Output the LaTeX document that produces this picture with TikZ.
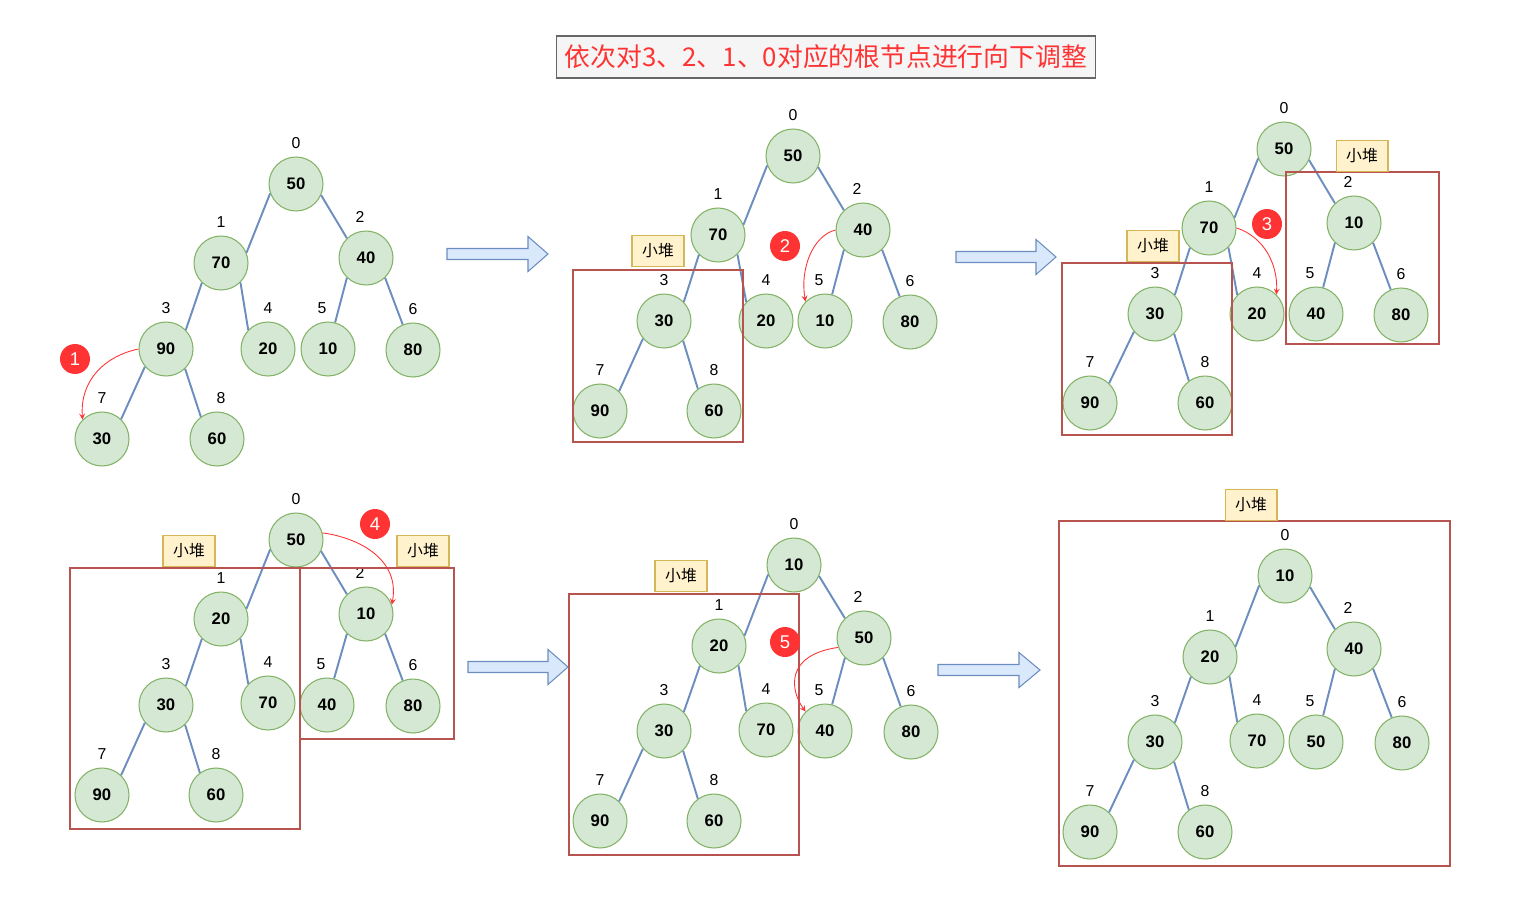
\documentclass[tikz,border=0pt]{standalone}
\usepackage{fontspec}
\setmainfont{Liberation Sans}
\newfontfamily\cjk{Noto Sans CJK SC}
\usetikzlibrary{arrows}
\definecolor{nodefill}{HTML}{D5E8D4}
\definecolor{nodeline}{HTML}{82B366}
\definecolor{edgeblue}{HTML}{6C8EBF}
\definecolor{arrowfill}{HTML}{DAE8FC}
\definecolor{boxred}{HTML}{B85450}
\definecolor{tagfill}{HTML}{FFF2CC}
\definecolor{tagline}{HTML}{D6B656}
\definecolor{badgered}{HTML}{FF3333}
\definecolor{titlefill}{HTML}{F5F5F5}
\definecolor{titleline}{HTML}{666666}
\tikzstyle{heapnode} = [circle, minimum size=1.08cm, inner sep=0pt, draw=nodeline, fill=nodefill, line width=0.6pt, font=\fontsize{9.5}{10}\selectfont\bfseries]
\tikzstyle{idx} = [font=\fontsize{9}{10}\selectfont, label distance=1pt]
\tikzstyle{edge} = [draw=edgeblue, line width=1.1pt]
\tikzstyle{heapbox} = [draw=boxred, line width=0.6pt]
\tikzstyle{tag} = [rectangle, draw=tagline, fill=tagfill, line width=0.6pt, minimum width=1.04cm, minimum height=0.62cm, inner sep=0pt, font=\cjk\fontsize{9}{10}\selectfont]
\tikzstyle{badge} = [circle, fill=badgered, text=white, minimum size=0.6cm, inner sep=0pt, font=\fontsize{10.5}{11}\selectfont]
\tikzstyle{redarrow} = [->, >=stealth, draw=badgered, line width=0.5pt]
\tikzstyle{bigarrow} = [draw=edgeblue, fill=arrowfill, line width=0.6pt]
\tikzstyle{title} = [rectangle, draw=titleline, fill=titlefill, line width=0.6pt, minimum width=10.78cm, minimum height=0.84cm, text=badgered, font=\cjk\fontsize{14.7}{17}\selectfont]

\begin{document}
\begin{tikzpicture}[x=0.02cm, y=-0.02cm]
\useasboundingbox (0,0) rectangle (1523,912);

\node (title) [title] at (826,57) {依次对3、2、1、0对应的根节点进行向下调整};

% tree 1
\node (t1n0) [heapnode, label={[idx]above:0}] at (296,184) {50};
\node (t1n1) [heapnode, label={[idx]above:1}] at (221,263) {70};
\node (t1n2) [heapnode, label={[idx, xshift=-0.12cm]above:2}] at (366,258) {40};
\node (t1n3) [heapnode, label={[idx]above:3}] at (166,349) {90};
\node (t1n4) [heapnode, label={[idx]above:4}] at (268,349) {20};
\node (t1n5) [heapnode, label={[idx, xshift=-0.12cm]above:5}] at (328,349) {10};
\node (t1n6) [heapnode, label={[idx]above:6}] at (413,350) {80};
\node (t1n7) [heapnode, label={[idx]above:7}] at (102,439) {30};
\node (t1n8) [heapnode, label={[idx, xshift=0.08cm]above:8}] at (217,439) {60};
\draw [edge] (t1n0.200) -- (t1n1.22);
\draw [edge] (t1n0.-24) -- (t1n2.134);
\draw [edge] (t1n1.226) -- (t1n3.44);
\draw [edge] (t1n1.-45) -- (t1n4.136);
\draw [edge] (t1n2.226) -- (t1n5.75);
\draw [edge] (t1n2.-46) -- (t1n6.112);
\draw [edge] (t1n3.220) -- (t1n7.46);
\draw [edge] (t1n3.-46) -- (t1n8.126);
\node (step1) [badge] at (75,359) {1};
\draw [redarrow] (t1n3.west) .. controls (105,356) and (80,380) .. (t1n7.north west);

% tree 2
\node (t2n0) [heapnode, label={[idx]above:0}] at (793,156) {50};
\node (t2n1) [heapnode, label={[idx]above:1}] at (718,235) {70};
\node (t2n2) [heapnode, label={[idx, xshift=-0.12cm]above:2}] at (863,230) {40};
\node (t2n3) [heapnode, label={[idx]above:3}] at (664,321) {30};
\node (t2n4) [heapnode, label={[idx]above:4}] at (766,321) {20};
\node (t2n5) [heapnode, label={[idx, xshift=-0.12cm]above:5}] at (825,321) {10};
\node (t2n6) [heapnode, label={[idx]above:6}] at (910,322) {80};
\node (t2n7) [heapnode, label={[idx]above:7}] at (600,411) {90};
\node (t2n8) [heapnode, label={[idx]above:8}] at (714,411) {60};
\draw [edge] (t2n0.200) -- (t2n1.22);
\draw [edge] (t2n0.-24) -- (t2n2.134);
\draw [edge] (t2n1.226) -- (t2n3.44);
\draw [edge] (t2n1.-45) -- (t2n4.136);
\draw [edge] (t2n2.226) -- (t2n5.75);
\draw [edge] (t2n2.-46) -- (t2n6.112);
\draw [edge] (t2n3.220) -- (t2n7.46);
\draw [edge] (t2n3.-46) -- (t2n8.126);
\draw [heapbox] (573,270) rectangle (743,442);
\node (t2tag) [tag] at (658,251) {小堆};
\node (step2) [badge] at (785,246) {2};
\draw [redarrow] (t2n2.west) .. controls (812,236) and (800,270) .. (t2n5.north west);

% tree 3
\node (t3n0) [heapnode, label={[idx]above:0}] at (1284,149) {50};
\node (t3n1) [heapnode, label={[idx]above:1}] at (1209,228) {70};
\node (t3n2) [heapnode, label={[idx, xshift=-0.12cm]above:2}] at (1354,223) {10};
\node (t3n3) [heapnode, label={[idx]above:3}] at (1155,314) {30};
\node (t3n4) [heapnode, label={[idx]above:4}] at (1257,314) {20};
\node (t3n5) [heapnode, label={[idx, xshift=-0.12cm]above:5}] at (1316,314) {40};
\node (t3n6) [heapnode, label={[idx]above:6}] at (1401,315) {80};
\node (t3n7) [heapnode, label={[idx]above:7}] at (1090,403) {90};
\node (t3n8) [heapnode, label={[idx]above:8}] at (1205,403) {60};
\draw [edge] (t3n0.200) -- (t3n1.22);
\draw [edge] (t3n0.-24) -- (t3n2.134);
\draw [edge] (t3n1.226) -- (t3n3.44);
\draw [edge] (t3n1.-45) -- (t3n4.136);
\draw [edge] (t3n2.226) -- (t3n5.75);
\draw [edge] (t3n2.-46) -- (t3n6.112);
\draw [edge] (t3n3.220) -- (t3n7.46);
\draw [edge] (t3n3.-46) -- (t3n8.126);
\draw [heapbox] (1062,263) rectangle (1232,435);
\draw [heapbox] (1286,172) rectangle (1439,344);
\node (t3tagl) [tag] at (1153,246) {小堆};
\node (t3tagr) [tag] at (1362,156) {小堆};
\node (step3) [badge] at (1267,224) {3};
\draw [redarrow] (t3n1.east) .. controls (1262,236) and (1278,262) .. (t3n4.north east);

% tree 4
\node (t4n0) [heapnode, label={[idx]above:0}] at (296,540) {50};
\node (t4n1) [heapnode, label={[idx]above:1}] at (221,619) {20};
\node (t4n2) [heapnode, label={[idx, xshift=-0.12cm]above:2}] at (366,614) {10};
\node (t4n3) [heapnode, label={[idx]above:3}] at (166,705) {30};
\node (t4n4) [heapnode, label={[idx]above:4}] at (268,703) {70};
\node (t4n5) [heapnode, label={[idx, xshift=-0.12cm]above:5}] at (327,705) {40};
\node (t4n6) [heapnode, label={[idx]above:6}] at (413,706) {80};
\node (t4n7) [heapnode, label={[idx]above:7}] at (102,795) {90};
\node (t4n8) [heapnode, label={[idx]above:8}] at (216,795) {60};
\draw [edge] (t4n0.200) -- (t4n1.22);
\draw [edge] (t4n0.-24) -- (t4n2.134);
\draw [edge] (t4n1.226) -- (t4n3.44);
\draw [edge] (t4n1.-45) -- (t4n4.136);
\draw [edge] (t4n2.226) -- (t4n5.75);
\draw [edge] (t4n2.-46) -- (t4n6.112);
\draw [edge] (t4n3.220) -- (t4n7.46);
\draw [edge] (t4n3.-46) -- (t4n8.126);
\draw [heapbox] (70,568) rectangle (300,829);
\draw [heapbox] (300,568) rectangle (454,739);
\node (t4tagl) [tag] at (189,551) {小堆};
\node (t4tagr) [tag] at (423,551) {小堆};
\node (step4) [badge] at (375,524) {4};
\draw [redarrow] (t4n0.15) .. controls (360,538) and (400,560) .. (t4n2.20);

% tree 5
\node (t5n0) [heapnode, label={[idx]above:0}] at (794,565) {10};
\node (t5n1) [heapnode, label={[idx]above:1}] at (719,646) {20};
\node (t5n2) [heapnode, label={[idx, xshift=-0.12cm]above:2}] at (864,638) {50};
\node (t5n3) [heapnode, label={[idx]above:3}] at (664,731) {30};
\node (t5n4) [heapnode, label={[idx]above:4}] at (766,730) {70};
\node (t5n5) [heapnode, label={[idx, xshift=-0.12cm]above:5}] at (825,731) {40};
\node (t5n6) [heapnode, label={[idx]above:6}] at (911,732) {80};
\node (t5n7) [heapnode, label={[idx]above:7}] at (600,821) {90};
\node (t5n8) [heapnode, label={[idx]above:8}] at (714,821) {60};
\draw [edge] (t5n0.200) -- (t5n1.22);
\draw [edge] (t5n0.-24) -- (t5n2.134);
\draw [edge] (t5n1.226) -- (t5n3.44);
\draw [edge] (t5n1.-45) -- (t5n4.136);
\draw [edge] (t5n2.226) -- (t5n5.75);
\draw [edge] (t5n2.-46) -- (t5n6.112);
\draw [edge] (t5n3.220) -- (t5n7.46);
\draw [edge] (t5n3.-46) -- (t5n8.126);
\draw [heapbox] (569,594) rectangle (799,855);
\node (t5tag) [tag] at (681,576) {小堆};
\node (step5) [badge] at (785,642) {5};
\draw [redarrow] (t5n2.200) .. controls (785,655) and (790,690) .. (t5n5.north west);

% tree 6
\node (t6n0) [heapnode, label={[idx]above:0}] at (1285,576) {10};
\node (t6n1) [heapnode, label={[idx]above:1}] at (1210,657) {20};
\node (t6n2) [heapnode, label={[idx, xshift=-0.12cm]above:2}] at (1354,649) {40};
\node (t6n3) [heapnode, label={[idx]above:3}] at (1155,742) {30};
\node (t6n4) [heapnode, label={[idx]above:4}] at (1257,741) {70};
\node (t6n5) [heapnode, label={[idx, xshift=-0.12cm]above:5}] at (1316,742) {50};
\node (t6n6) [heapnode, label={[idx]above:6}] at (1402,743) {80};
\node (t6n7) [heapnode, label={[idx]above:7}] at (1090,832) {90};
\node (t6n8) [heapnode, label={[idx]above:8}] at (1205,832) {60};
\draw [edge] (t6n0.200) -- (t6n1.22);
\draw [edge] (t6n0.-24) -- (t6n2.134);
\draw [edge] (t6n1.226) -- (t6n3.44);
\draw [edge] (t6n1.-45) -- (t6n4.136);
\draw [edge] (t6n2.226) -- (t6n5.75);
\draw [edge] (t6n2.-46) -- (t6n6.112);
\draw [edge] (t6n3.220) -- (t6n7.46);
\draw [edge] (t6n3.-46) -- (t6n8.126);
\draw [heapbox] (1059,521) rectangle (1450,866);
\node (t6tag) [tag] at (1251,505) {小堆};

% block arrows between the steps
\draw [bigarrow, shift={(447,254)}] (0,-5.5) -- (81,-5.5) -- (81,-17.5) -- (101,0) -- (81,17.5) -- (81,5.5) -- (0,5.5) -- cycle;
\draw [bigarrow, shift={(956,257)}] (0,-5.5) -- (80,-5.5) -- (80,-17.5) -- (100,0) -- (80,17.5) -- (80,5.5) -- (0,5.5) -- cycle;
\draw [bigarrow, shift={(468,667)}] (0,-5.5) -- (80,-5.5) -- (80,-17.5) -- (100,0) -- (80,17.5) -- (80,5.5) -- (0,5.5) -- cycle;
\draw [bigarrow, shift={(938,670)}] (0,-5.5) -- (81,-5.5) -- (81,-17.5) -- (102,0) -- (81,17.5) -- (81,5.5) -- (0,5.5) -- cycle;

\end{tikzpicture}
\end{document}
